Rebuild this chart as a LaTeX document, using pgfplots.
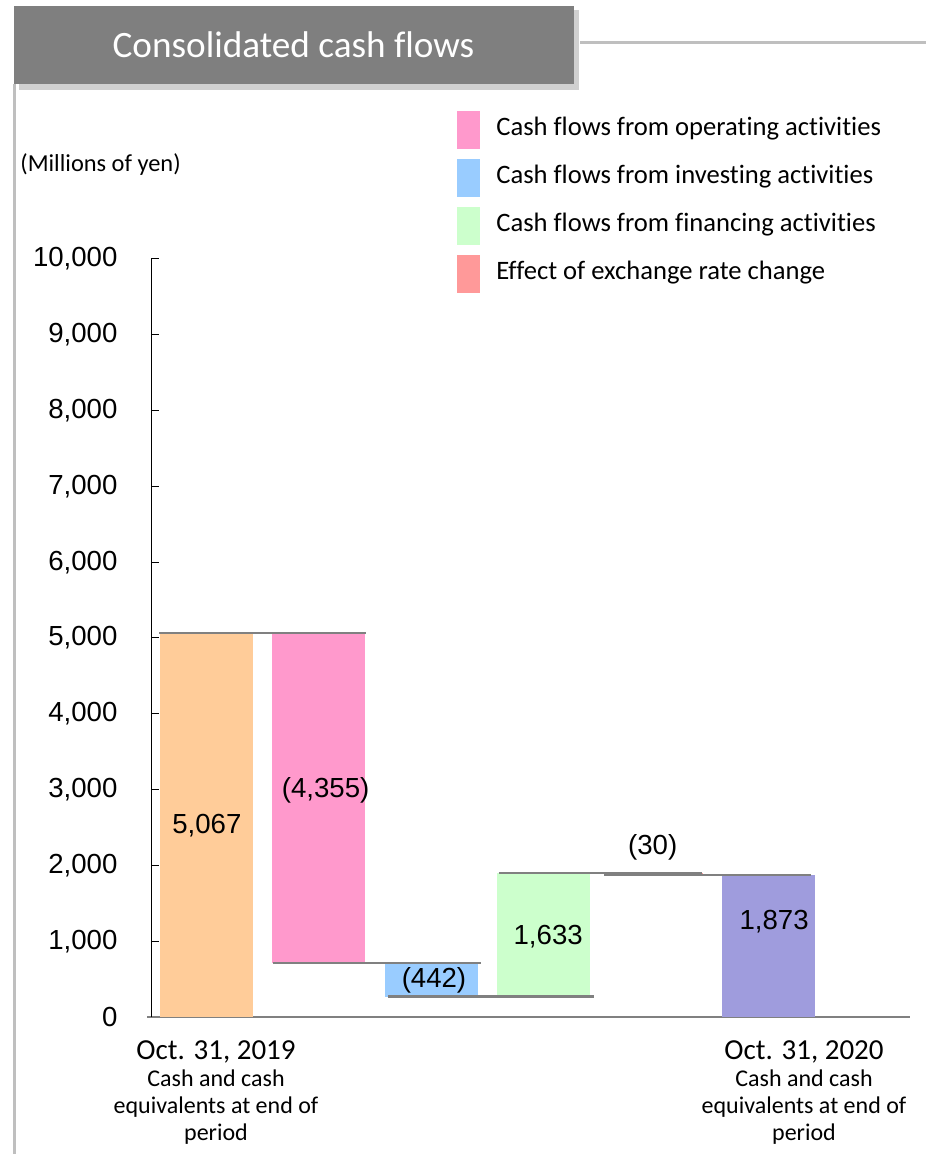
\documentclass[border=0pt]{standalone}
\usepackage{pgfplots}
\pgfplotsset{compat=1.18}
\usepackage{pgfplotstable}
\usepackage{fontspec}
\setmainfont[Ligatures=NoCommon]{Carlito}
\newfontfamily\arialf{Liberation Sans}

\definecolor{cOpen}{HTML}{FFCC99}
\definecolor{cOp}{HTML}{FF99CC}
\definecolor{cInv}{HTML}{99CCFF}
\definecolor{cFin}{HTML}{CCFFCC}
\definecolor{cFx}{HTML}{FF9999}
\definecolor{cClose}{HTML}{9F9CDD}
\definecolor{cConn}{HTML}{808080}
\definecolor{cTitle}{HTML}{7F7F7F}
\definecolor{cShadow}{HTML}{D0D0D0}
\definecolor{cFrame}{HTML}{BFBFBF}

\pgfplotstableread{
x base open op inv fin fx close
0 0 5067 0 0 0 0 0
1 712 0 4355 0 0 0 0
2 270 0 0 442 0 0 0
3 270 0 0 0 1633 0 0
4 1873 0 0 0 0 30 0
5 0 0 0 0 0 0 1873
}\flows

\pgfplotstableread{
x y label
0.004 2520 5,067
1.06 2995 (4,355)
2.024 488 (442)
3.04 1055 1,633
3.97 2243 (30)
5.05 1253 1,873
}\labels

\pgfplotsset{
  common/.style={
    at={(0pt,0pt)}, anchor=south west, scale only axis,
    width=379.25pt, height=379pt,
    xmin=-0.489, xmax=6.259, ymin=0, ymax=10000,
  },
  sq/.style={legend image code/.code={\fill[##1] (0pt,-6.75pt) rectangle (11.5pt,12.25pt);}},
}

\begin{document}
\begin{tikzpicture}
\useasboundingbox (-75.75pt,-68.5pt) rectangle (387.25pt,508.5pt);
\begin{scope}[shift={(-75.75pt,508.5pt)}, x=0.5pt, y=-0.5pt]
  \draw[cFrame, line width=1.5pt] (15,84) -- (15,1154);
  \draw[cFrame, line width=1.5pt] (580,43) -- (926,43);
  \fill[cShadow] (19,10) rectangle (579,90);
  \fill[cTitle] (14,6) rectangle (574,84);
  \node[white, font=\fontsize{18.6}{20}\selectfont, anchor=base, inner sep=0pt] at (293.5,58) {Consolidated cash flows};
  \node[anchor=base west, font=\fontsize{12.2}{14}\selectfont, inner sep=0pt] at (20,172) {(Millions of yen)};
\end{scope}

\begin{axis}[common,
  ybar stacked, bar width=46.5pt,
  axis x line*=bottom, axis y line*=left,
  x axis line style={draw=cConn, line width=1pt, shorten <=-2pt},
  y axis line style={draw=black, line width=0.5pt},
  xtick={0.085,5.316},
  xticklabels={
    {{\fontsize{14.5}{14.5}\selectfont Oct. 31, 2019}\\Cash and cash\\equivalents at end of\\period},
    {{\fontsize{14.5}{14.5}\selectfont Oct. 31, 2020}\\Cash and cash\\equivalents at end of\\period}},
  xticklabel style={align=center, anchor=north, inner sep=0pt, yshift=-11.4pt,
    font=\fontsize{12}{13.5}\selectfont},
  xtick style={draw=none},
  ytick={0,1000,...,10000},
  tick align=inside, major tick length=4pt,
  ytick style={black, line width=0.5pt},
  scaled y ticks=false,
  /pgf/number format/1000 sep={,},
  yticklabel style={font=\arialf\fontsize{13.8}{15}\selectfont,
    /pgf/number format/assume math mode=true, xshift=-13.5pt},
]
\addplot[draw=none, fill=none] table[x=x, y=base] {\flows};
\addplot[draw=none, fill=cOpen] table[x=x, y=open] {\flows};
\addplot[draw=none, fill=cOp] table[x=x, y=op] {\flows};
\addplot[draw=none, fill=cInv] table[x=x, y=inv] {\flows};
\addplot[draw=none, fill=cFin] table[x=x, y=fin] {\flows};
\addplot[draw=none, fill=cFx] table[x=x, y=fx] {\flows};
\addplot[draw=none, fill=cClose] table[x=x, y=close] {\flows};
\end{axis}

\begin{axis}[common, hide axis,
  legend style={at={(0.4032,1.1953)}, anchor=north west, draw=none, fill=none,
    inner sep=0pt, outer sep=0pt, row sep=5pt, column sep=8pt,
    font=\fontsize{13.3}{15}\selectfont, nodes={inner sep=0pt, anchor=base west}},
  legend cell align=left,
]
\addlegendimage{sq, fill=cOp, draw=none}
\addlegendentry{Cash flows from operating activities}
\addlegendimage{sq, fill=cInv, draw=none}
\addlegendentry{Cash flows from investing activities}
\addlegendimage{sq, fill=cFin, draw=none}
\addlegendentry{Cash flows from financing activities}
\addlegendimage{sq, fill=cFx, draw=none}
\addlegendentry{Effect of exchange rate change}
\addplot[cConn, line width=1.2pt, forget plot] coordinates {(-0.42,5067) (1.415,5067)};
\addplot[cConn, line width=1.2pt, forget plot] coordinates {(0.592,712) (2.442,712)};
\addplot[cConn, line width=1.2pt, forget plot] coordinates {(1.615,270) (3.448,270)};
\addplot[cConn, line width=1.2pt, forget plot] coordinates {(2.60,1903) (4.41,1903)};
\addplot[cConn, line width=1.2pt, forget plot] coordinates {(3.537,1873) (5.378,1873)};
\addplot[forget plot, only marks, mark=text, text mark={},
  nodes near coords, point meta=explicit symbolic, nodes near coords align={center},
  every node near coord/.append style={font=\arialf\fontsize{13.8}{15}\selectfont, inner sep=0pt, black}]
  table[x=x, y=y, meta=label] {\labels};
\end{axis}
\end{tikzpicture}
\end{document}
